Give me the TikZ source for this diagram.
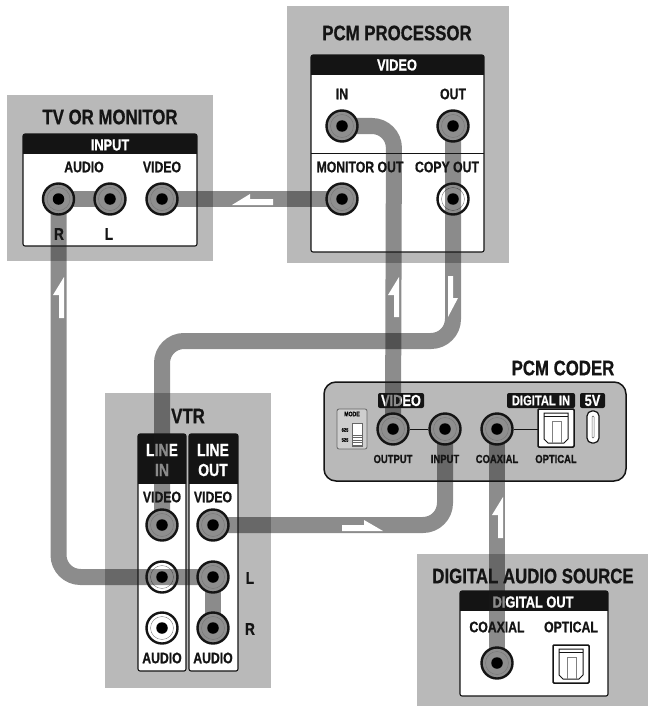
\documentclass[tikz,border=0pt]{standalone}
\usepackage{fontspec}
\setmainfont{Liberation Sans}[FakeStretch=0.8, BoldFeatures={FakeBold=0.8}]
\usetikzlibrary{calc}
\definecolor{panelgray}{HTML}{B9B9B9}
\definecolor{jackgray}{HTML}{8E8E8E}
\colorlet{inkblack}{black!92}
\tikzset{
    panel/.style={fill=panelgray},
    unitbox/.style={draw=inkblack, fill=white, line width=1.1pt, rounded corners=2pt},
    headbar/.style={fill=inkblack, rounded corners=2pt},
    title/.style={inner sep=0pt, text=inkblack, font=\bfseries\fontsize{21}{21}\selectfont},
    tag/.style={inner sep=0pt, text=inkblack, font=\bfseries\fontsize{15.3}{15.3}\selectfont},
    bigtag/.style={inner sep=0pt, text=inkblack, font=\bfseries\fontsize{17}{17}\selectfont},
    headtext/.style={inner sep=0pt, text=white, font=\bfseries\fontsize{16}{16}\selectfont},
    linetext/.style={inner sep=0pt, text=white, font=\bfseries\fontsize{17.5}{17.5}\selectfont},
    smalltag/.style={inner sep=0pt, text=inkblack, font=\bfseries\fontsize{11.8}{11.8}\selectfont},
    jack/.style={circle, draw=inkblack, line width=2.4pt, fill=jackgray, minimum size=31pt, inner sep=0pt,
        append after command={(\tikzlastnode.center) node[ringmark] {}}},
    whitejack/.style={jack, fill=white},
    ringmark/.style={circle, draw=black!55, line width=0.35pt, minimum size=23pt, inner sep=0pt},
    jackdot/.style={circle, fill=black, minimum size=11.5pt, inner sep=0pt},
    cable/.style={draw=black!90, opacity=0.5, line width=16pt, rounded corners=22pt},
    flowmark/.style={fill=white},
    thinlink/.style={draw=inkblack, line width=0.5pt},
    optical/.pic={
        \draw[draw=inkblack, fill=white, line width=1.5pt, rounded corners=1pt] (-18,-19) rectangle (18,19);
        \draw[draw=inkblack, line width=1pt] (-12,-15) -- (12,-15) -- (12,11) -- (8,15) -- (-8,15) -- (-12,11) -- cycle;
        \draw[draw=inkblack, line width=0.6pt] (-12,-12) -- (12,-12);
        \draw[draw=black!50, line width=0.4pt] (-4,15) -- (-4,-7) -- (5,-7) -- (5,15);
    }
}

\begin{document}
\begin{tikzpicture}[x=1pt, y=-1pt]
    \useasboundingbox (0,0) rectangle (648,706);

    % gray panels
    \fill[panel] (7,95) rectangle (213,261);
    \fill[panel] (287,6) rectangle (509,263);
    \fill[panel] (105,393) rectangle (271,688);
    \fill[panel] (417,554) rectangle (648,706);
    \draw[draw=inkblack, fill=panelgray, line width=1.5pt, rounded corners=12pt] (324,382) rectangle (626,481);

    % boxes with black heads
    \draw[unitbox] (23,134) rectangle (197,246);
    \fill[headbar] (23,154) [sharp corners] -- (23,134) -- (197,134) -- (197,154) -- cycle;
    \draw[unitbox] (311,55) rectangle (484,252);
    \fill[headbar] (311,75) [sharp corners] -- (311,55) -- (484,55) -- (484,75) -- cycle;
    \draw[draw=inkblack, line width=0.8pt] (311,153) -- (484,153);
    \draw[unitbox] (138,434) rectangle (186,671);
    \fill[headbar] (138,484) [sharp corners] -- (138,434) -- (186,434) -- (186,484) -- cycle;
    \draw[unitbox] (189,434) rectangle (238,671);
    \fill[headbar] (189,484) [sharp corners] -- (189,434) -- (238,434) -- (238,484) -- cycle;
    \draw[unitbox] (460,591) rectangle (608,696);
    \fill[headbar] (460,611) [sharp corners] -- (460,591) -- (608,591) -- (608,611) -- cycle;

    % titles
    \node[title] (tvTitle) at (110,117) {TV OR MONITOR};
    \node[title] (procTitle) at (397,33) {PCM PROCESSOR};
    \node[title] (coderTitle) at (563,368) {PCM CODER};
    \node[title] (vtrTitle) at (188,416) {VTR};
    \node[title] (sourceTitle) at (533,576) {DIGITAL AUDIO SOURCE};

    % texts of the boxes
    \node[headtext] (tvHead) at (110,145) {INPUT};
    \node[tag] (tvAudio) at (84,167) {AUDIO};
    \node[tag] (tvVideo) at (162,167) {VIDEO};
    \node[bigtag] (tvR) at (59,234) {R};
    \node[bigtag] (tvL) at (109,234) {L};
    \node[headtext] (procHead) at (397,65) {VIDEO};
    \node[tag] (procIn) at (342,94) {IN};
    \node[tag] (procOut) at (453,94) {OUT};
    \node[tag] (procMon) at (360,167) {MONITOR OUT};
    \node[tag] (procCopy) at (447,167) {COPY OUT};
    \node[linetext] (lineIn) at (162,450) {LINE};
    \node[linetext] (lineInB) at (162,470) {IN};
    \node[linetext] (lineOut) at (213,450) {LINE};
    \node[linetext] (lineOutB) at (213,470) {OUT};
    \foreach \x/\n in {162/In,213/Out}
    {
        \node[tag] (vid\n) at (\x,497) {VIDEO};
        \node[tag] (aud\n) at (\x,658) {AUDIO};
    }
    \node[bigtag] (vtrL) at (250,578) {L};
    \node[bigtag] (vtrR) at (250,629) {R};
    \node[headtext] (sourceHead) at (533,602) {DIGITAL OUT};
    \node[tag] (sourceCoax) at (497,627) {COAXIAL};
    \node[tag] (sourceOpt) at (571,627) {OPTICAL};
    \pic at (571,664) {optical};

    % the coder front
    \draw[draw=black!60, fill=panelgray!70!white, line width=0.8pt, rounded corners=2pt] (337,409) rectangle (367,449);
    \node[inner sep=0pt, font=\bfseries\fontsize{6.5}{6.5}\selectfont] (modeText) at (352,414) {MODE};
    \node[inner sep=0pt, font=\bfseries\fontsize{5}{5}\selectfont] (mode625) at (345,430) {625};
    \node[inner sep=0pt, font=\bfseries\fontsize{5}{5}\selectfont] (mode525) at (345,440) {525};
    \draw[draw=black!60, fill=white, line width=0.4pt] (352,423) rectangle (362,446);
    \foreach \y in {435,437.5,...,445}
    {
        \draw[draw=black!60, line width=0.5pt] (352,\y) -- (362,\y);
    }
    \fill[headbar] (378,393) rectangle (424,408);
    \fill[headbar] (507,393) rectangle (575,408);
    \fill[headbar] (580,393) rectangle (605,408);
    \node[headtext] (coderVideo) at (401,400.5) {VIDEO};
    \node[headtext, font=\bfseries\fontsize{14}{14}\selectfont] (coderDigital) at (541,400.5) {DIGITAL IN};
    \node[headtext] (coderFive) at (592.5,400.5) {5V};
    \node[smalltag] (coderOutput) at (393,459) {OUTPUT};
    \node[smalltag] (coderInput) at (445,459) {INPUT};
    \node[smalltag] (coderCoax) at (497,459) {COAXIAL};
    \node[smalltag] (coderOpt) at (556,459) {OPTICAL};
    \draw[draw=inkblack, fill=white, line width=1.2pt, rounded corners=5pt] (587,411) rectangle (599,443);
    \draw[draw=black!60, line width=0.5pt, rounded corners=1pt] (592,416) rectangle (594,438);
    \coordinate (coderOptL) at (538,429);
    \pic at (556,428) {optical};

    % jacks below the cables
    \node[whitejack] (procCopyJack) at (453,199) {};
    \node[whitejack] (vtrInL) at (162,577) {};
    \node[whitejack] (vtrInR) at (162,628) {};
    \node[jackdot] (vtrInRDot) at (vtrInR) {};

    % where the other jacks will sit
    \foreach \jackname/\x/\y in {tvRJack/58.5/199, tvLJack/110/199, tvVideoJack/162/199,
        procInJack/342/126, procOutJack/453/126, procMonJack/342/199,
        vtrInVideo/162/525, vtrOutVideo/213/525, vtrOutL/213/577, vtrOutR/213/628,
        coderOutJack/393/429, coderInJack/445/429, coderCoaxJack/497/429, sourceCoaxJack/497/663}
    {
        \coordinate (\jackname) at (\x,\y);
    }

    % cables
    \coordinate (lowBend) at (300,341);
    \coordinate (procBend) at (394,126);
    \draw[cable] (tvVideoJack) -- (procMonJack);
    \draw[cable] (procInJack) -- (procBend) -- (coderOutJack);
    \draw[cable] (procOutJack) |- (lowBend) -| (vtrInVideo);
    \draw[cable] (tvRJack) |- (vtrOutL);
    \draw[cable] (tvRJack) -- (tvLJack);
    \draw[cable] (vtrOutL) -- (vtrOutR);
    \draw[cable] (vtrOutVideo) -| (coderInJack);
    \draw[cable] (coderCoaxJack) -- (sourceCoaxJack);

    % jacks over the cables
    \foreach \jackname/\x/\y in {tvRJack/58.5/199, tvLJack/110/199, tvVideoJack/162/199,
        procInJack/342/126, procOutJack/453/126, procMonJack/342/199,
        vtrInVideo/162/525, vtrOutVideo/213/525, vtrOutL/213/577, vtrOutR/213/628,
        coderOutJack/393/429, coderInJack/445/429, coderCoaxJack/497/429, sourceCoaxJack/497/663}
    {
        \node[jack] (\jackname) at (\x,\y) {};
        \node[jackdot] (\jackname Dot) at (\x,\y) {};
    }
    \node[jackdot] (procCopyDot) at (procCopyJack) {};
    \node[jackdot] (vtrInLDot) at (vtrInL) {};
    \draw[thinlink] (coderOutJack) -- (coderInJack);
    \draw[thinlink] (coderCoaxJack) -- (coderOptL);

    % direction marks
    \fill[flowmark] (64,277) -- (53,295) -- (59,295) -- (59,318) -- (64,318) -- cycle;
    \fill[flowmark] (399,277) -- (388,295) -- (394,295) -- (394,317) -- (399,317) -- cycle;
    \fill[flowmark] (448,276) -- (453,276) -- (453,298) -- (458,298) -- (448,317) -- cycle;
    \fill[flowmark] (232,205) -- (250,194) -- (250,199) -- (273,199) -- (273,205) -- cycle;
    \fill[flowmark] (342,525) -- (364,525) -- (364,520) -- (383,531) -- (342,531) -- cycle;
    \fill[flowmark] (503,497) -- (492,515) -- (498,515) -- (498,538) -- (503,538) -- cycle;
\end{tikzpicture}
\end{document}
